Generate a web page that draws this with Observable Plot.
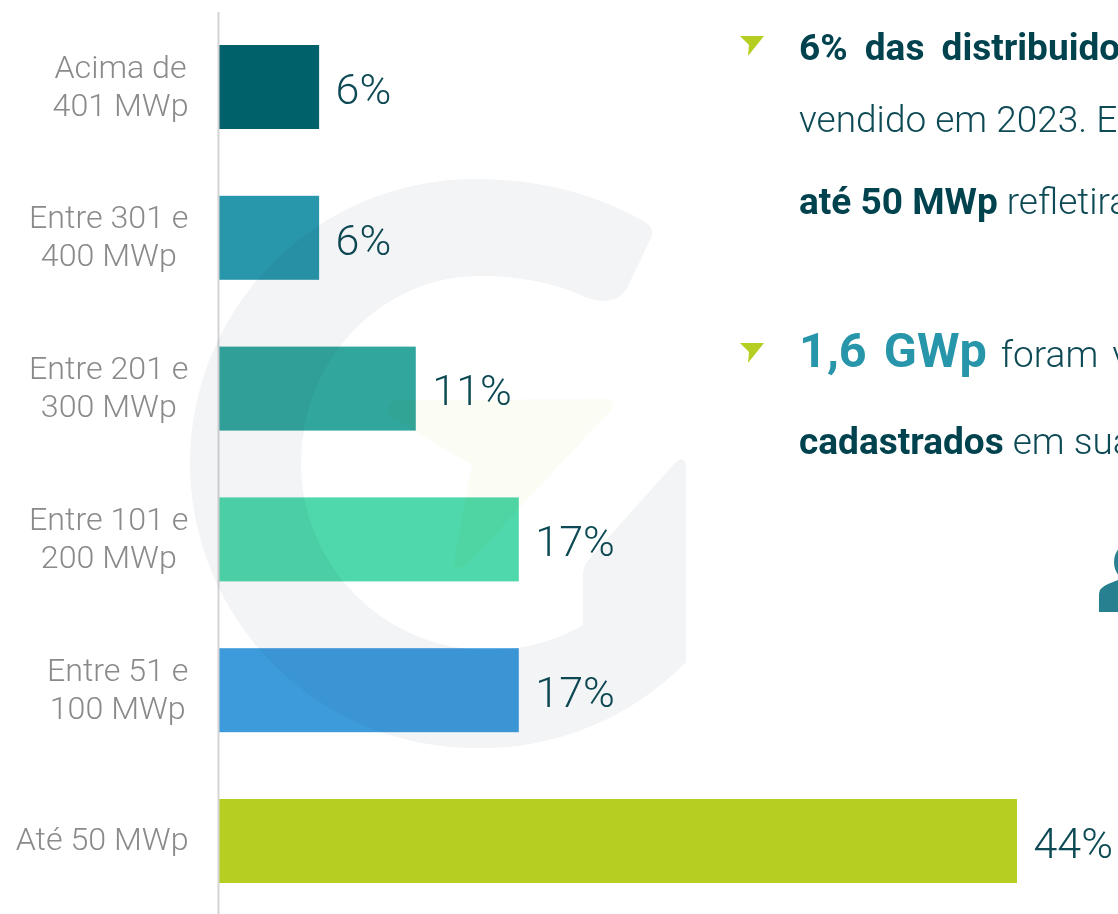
<!DOCTYPE html>
<html lang="pt">
<head>
<meta charset="utf-8">
<script src="https://cdn.jsdelivr.net/npm/d3@7"></script>
<script src="https://cdn.jsdelivr.net/npm/@observablehq/plot@0.6"></script>
<style>
  html, body { margin: 0; padding: 0; background: #fff; overflow: hidden; width: 1118px; height: 914px; }
  #stage { position: relative; width: 1118px; height: 914px; overflow: hidden; font-family: Roboto, sans-serif; }
  #chart, #watermark, #decor { position: absolute; left: 0; top: 0; }
  #watermark { mix-blend-mode: multiply; pointer-events: none; }
  .line { position: absolute; left: 799px; white-space: nowrap; font-weight: 300; color: #0d4a55; font-size: 37px; line-height: 40px; }
  .line b { font-weight: 700; color: #00434f; }
  .line b.teal { color: #2896aa; font-size: 48.6px; }
</style>
</head>
<body>
<div id="stage">
  <div id="chart"></div>
  <svg id="watermark" width="1118" height="914" viewBox="0 0 1118 914">
    <path fill="#f3f4f6" d="M645 222 Q655 228 651 238 L627 288 Q615 308 585 297 Q540 276 480 276 A179 187 0 0 0 301 463 A187 187 0 0 0 488 650 Q540 650 583 625 L583 575 Q583 565 590 558 L674 464 Q686 452 686 470 L686 662 A285 285 0 0 1 475 748 A285 285 0 0 1 190 463 A285 284 0 0 1 475 179 Q570 179 645 222 Z"/>
    <path fill="#fbfcf4" d="M396 400 L606 399 Q617 402 610 411 L467 564 Q456 572 454 562 L472 465 L392 418 Q382 407 396 400 Z"/>
  </svg>
  <svg id="decor" width="1118" height="914" viewBox="0 0 1118 914">
    <path fill="#b6ce22" d="M740 36 L764 36 L748 56 L749 45 Z"/>
    <path fill="#b6ce22" d="M740 343 L764 343 L748 363 L749 352 Z"/>
    <ellipse cx="1130" cy="562" rx="16" ry="19" fill="#27808f"/>
    <path fill="#27808f" d="M1099 612 L1099 594 Q1099 588 1108 584 L1118 580 L1118 612 Z"/>
  </svg>
  <div class="line" style="top:28px;word-spacing:8px"><b>6% das distribuidoras</b></div>
  <div class="line" style="top:100px">vendido em 2023. E</div>
  <div class="line" style="top:182px"><b>até 50 MWp</b> refletiram</div>
  <div class="line" style="top:331px;word-spacing:5px"><b class="teal">1,6 GWp</b> foram v</div>
  <div class="line" style="top:422px"><b>cadastrados</b> em sua</div>
</div>
<script>
const categories = ["Acima de\n401 MWp", "Entre 301 e\n400 MWp", "Entre 201 e\n300 MWp", "Entre 101 e\n200 MWp", "Entre 51 e\n100 MWp", "Até 50 MWp"];
const shares = [5.52, 5.52, 10.85, 16.53, 16.53, 44];
const shareLabels = ["6%", "6%", "11%", "17%", "17%", "44%"];
const barColors = ["#00616a", "#2997ab", "#31a69d", "#4fd8ab", "#3e9bdb", "#b6ce22"];

const rows = categories.map((category, i) => ({category, share: shares[i], label: shareLabels[i], color: barColors[i]}));

const labelFontSize = 32.2;
const labelFont = `300 ${labelFontSize}px Roboto`;
const ctx = document.createElement("canvas").getContext("2d");
ctx.font = labelFont;
const blockWidth = (t) => Math.max(...t.split("\n").map((s) => ctx.measureText(s).width));

// Each category label is a centred block whose right edge sits a fixed gap left of the axis.
const categoryMarks = rows.map((r) =>
  Plot.text([r], {
    x: () => 0,
    y: "category",
    text: "category",
    textAnchor: "middle",
    dx: -(31 + blockWidth(r.category) / 2),
    dy: r.category.includes("\n") ? -3 : -4,
    lineHeight: 38 / labelFontSize,
    fill: "#8a8a8a",
    fontSize: labelFontSize,
    fontWeight: 300
  })
);

const plot = Plot.plot({
  width: 1118,
  height: 914,
  marginTop: 12,
  marginBottom: 0,
  marginLeft: 0,
  marginRight: 0,
  style: {background: "transparent", fontFamily: "Roboto, sans-serif"},
  x: {domain: [0, 44], range: [219, 1017], axis: null},
  y: {domain: categories, range: [45, 883], paddingInner: 0.443, paddingOuter: 0, round: false, axis: null},
  marks: [
    Plot.barX(rows, {x1: () => 0, x2: "share", y: "category", fill: "color"}),
    Plot.ruleX([0], {dx: -1, stroke: "#d4d4d4", strokeWidth: 2}),
    ...categoryMarks,
    Plot.text(rows, {
      x: "share",
      y: "category",
      text: "label",
      textAnchor: "start",
      dx: 16,
      dy: 2.5,
      fill: "#0d4a55",
      fontSize: 43,
      fontWeight: 300
    })
  ]
});
document.getElementById("chart").append(plot);
</script>
</body>
</html>
